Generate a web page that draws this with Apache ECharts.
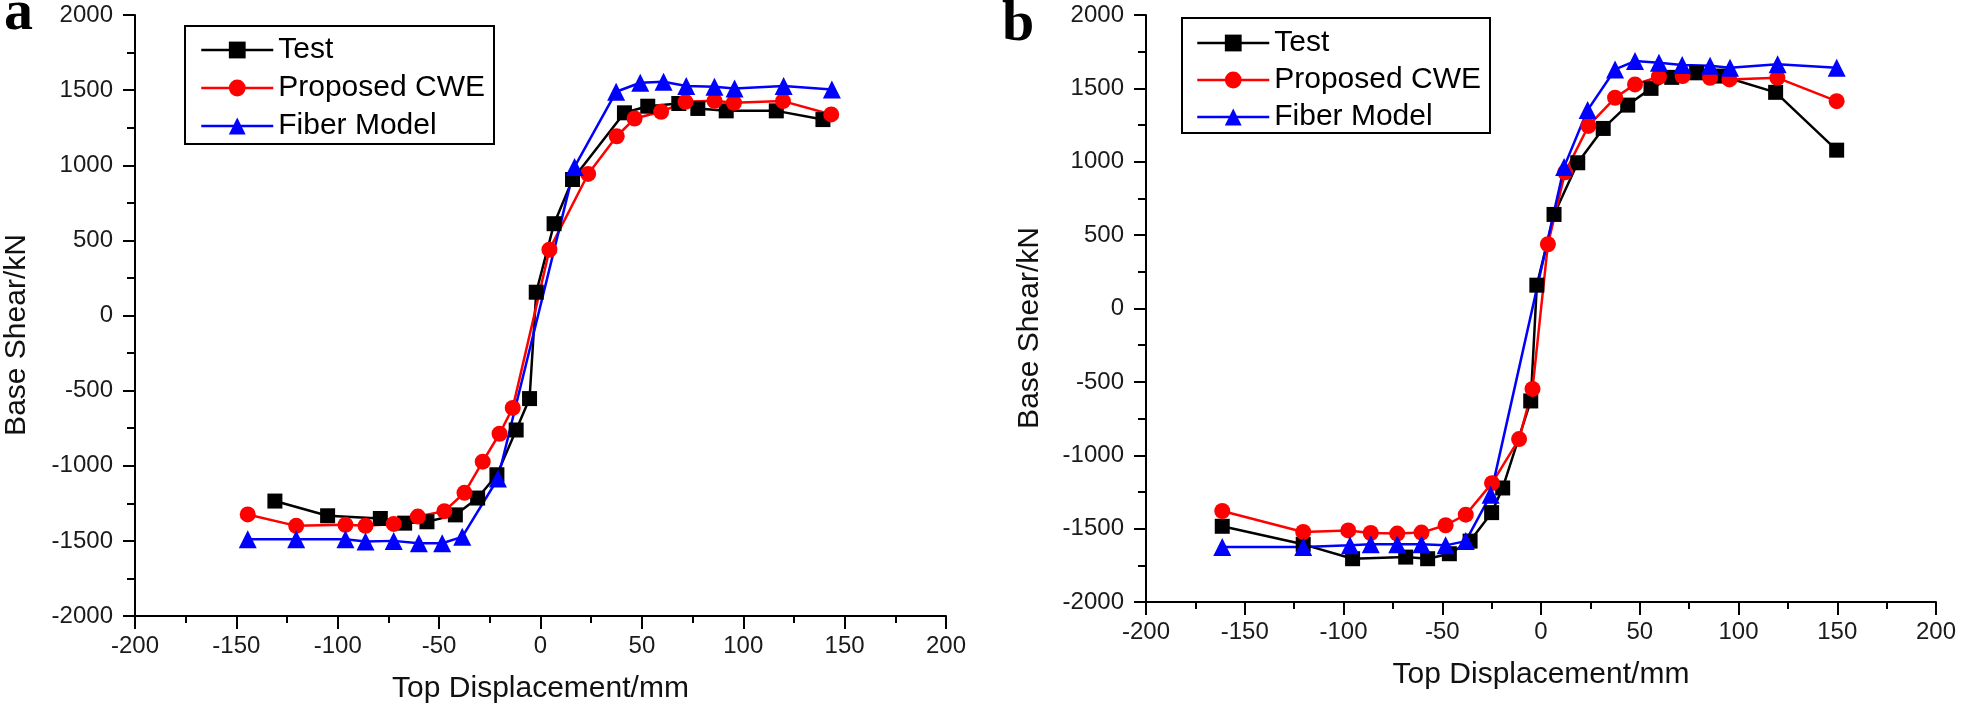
<!DOCTYPE html>
<html>
<head>
<meta charset="utf-8">
<script src="https://cdn.jsdelivr.net/npm/echarts@6/dist/echarts.min.js"></script>
<style>
html,body{margin:0;padding:0;background:#fff;}
#chart{width:1961px;height:715px;}
</style>
</head>
<body>
<div id="chart"></div>
<script>
// Panel a data: [top displacement (mm), base shear (kN)]
var aTest = [[-131,-1235],[-105,-1333],[-79,-1351],[-67,-1382],[-56,-1373],[-42,-1327],[-31,-1215],[-21.5,-1060],[-12,-762],[-5.4,-553],[-2.1,155],[6.7,611],[15.8,905],[41.4,1349],[52.9,1393],[68.2,1411],[77.6,1378],[91.6,1362],[116.3,1362],[139.3,1304]];
var aCwe = [[-144.4,-1324],[-120.5,-1400],[-96.2,-1393],[-86.3,-1400],[-72.4,-1387],[-60.5,-1338],[-47.4,-1302],[-37.5,-1180],[-28.5,-973],[-20.2,-787],[-13.7,-615],[4.4,438],[23.5,942],[37.6,1193],[46.4,1311],[59.5,1356],[71.5,1422],[85.8,1429],[95.4,1416],[119.6,1427],[143.4,1338]];
var aFiber = [[-144.4,-1489],[-120.5,-1489],[-96.2,-1489],[-86.3,-1504],[-72.4,-1500],[-60,-1516],[-48.5,-1516],[-38.6,-1473],[-21,-1085],[16.8,989],[37.3,1489],[49.2,1549],[60.7,1556],[71.9,1527],[85.8,1522],[95.7,1511],[119.9,1527],[143.7,1504]];
// Panel b data
var bTest = [[-161.4,-1484],[-120.4,-1607],[-95.4,-1705],[-68.5,-1694],[-57.4,-1705],[-46.4,-1671],[-35.9,-1585],[-25,-1391],[-19.4,-1223],[-5.2,-630],[-2.1,159],[6.6,641],[18.6,993],[31.5,1227],[43.9,1386],[55.7,1500],[66.2,1575],[78.8,1606],[91.5,1584],[118.8,1473],[149.7,1079]];
var bCwe = [[-161.4,-1380],[-120.4,-1523],[-97.6,-1512],[-86.2,-1530],[-72.8,-1534],[-60.5,-1527],[-48.3,-1477],[-38.1,-1405],[-24.8,-1190],[-11.1,-890],[-4.3,-548],[3.5,438],[12.2,928],[24,1244],[37.5,1436],[47.6,1527],[59.7,1579],[71.7,1584],[85.6,1572],[95.4,1561],[119.7,1572],[149.7,1413]];
var bFiber = [[-161.4,-1625],[-120.4,-1625],[-96.7,-1614],[-86.2,-1607],[-72.8,-1607],[-60.5,-1607],[-48.3,-1614],[-38.1,-1585],[-25.5,-1270],[11.7,965],[23.6,1352],[37.5,1629],[47.6,1686],[59.7,1675],[71.5,1659],[85.6,1654],[95.7,1641],[119.8,1664],[149.7,1641]];

var seriesNames = ['Test', 'Proposed CWE', 'Fiber Model'];
var xTitle = 'Top Displacement/mm';
var yTitle = 'Base Shear/kN';
var panelLabels = ['a', 'b'];

var FONT = '"Liberation Sans", Arial, sans-serif';
var styles = [
  {color:'#000000', symbol:'rect', size:15},
  {color:'#ff0000', symbol:'circle', size:16},
  {color:'#0000ff', symbol:'triangle', size:18}
];

function plain(v){ return String(v); }

function xAx(gi){
  return {
    type:'value', gridIndex:gi, min:-200, max:200, interval:50,
    axisLine:{onZero:false, lineStyle:{color:'#000', width:2}},
    axisTick:{length:13, lineStyle:{color:'#000', width:2}},
    minorTick:{show:true, splitNumber:2, length:7, lineStyle:{color:'#000', width:2}},
    splitLine:{show:false},
    axisLabel:{fontSize:24, color:'#1a1a1a', margin:18, fontFamily:FONT, formatter:plain},
    name:xTitle, nameLocation:'middle', nameGap:58,
    nameTextStyle:{fontSize:30, color:'#111', fontFamily:FONT}
  };
}
function yAx(gi){
  return {
    type:'value', gridIndex:gi, min:-2000, max:2000, interval:500,
    axisLine:{onZero:false, lineStyle:{color:'#000', width:2}},
    axisTick:{length:12, lineStyle:{color:'#000', width:2}},
    minorTick:{show:true, splitNumber:2, length:8, lineStyle:{color:'#000', width:2}},
    splitLine:{show:false},
    axisLabel:{fontSize:24, color:'#1a1a1a', margin:22, fontFamily:FONT, formatter:plain}
  };
}
function mk(name, data, idx, gi){
  var s = styles[idx];
  return {
    name:name, type:'line', xAxisIndex:gi, yAxisIndex:gi, data:data,
    symbol:s.symbol, symbolSize:s.size, showAllSymbol:true,
    lineStyle:{color:s.color, width:2.5},
    itemStyle:{color:s.color},
    animation:false
  };
}
function legendOf(gi, left, top, pad, gap){
  return {
    orient:'vertical', left:left, top:top, padding:pad, itemGap:gap,
    itemWidth:72, itemHeight:21,
    borderColor:'#000', borderWidth:2, backgroundColor:'#fff',
    lineStyle:{width:2.5},
    textStyle:{fontSize:30, lineHeight:30, color:'#000', fontFamily:FONT},
    data:seriesNames
  };
}
function rotTitle(x, y){
  return {type:'text', x:x, y:y, rotation:Math.PI/2,
    style:{text:yTitle, font:'30px ' + FONT, fill:'#111',
      align:'center', verticalAlign:'middle', textAlign:'center', textVerticalAlign:'middle'}};
}
function letter(t, x, y){
  return {type:'text', x:x, y:y,
    style:{text:t, font:'bold 58px "Liberation Serif", "Times New Roman", serif', fill:'#000',
      align:'left', verticalAlign:'middle', textAlign:'left', textVerticalAlign:'middle'}};
}

var chart = echarts.init(document.getElementById('chart'), null, {renderer:'canvas'});
chart.setOption({
  backgroundColor:'#fff',
  animation:false,
  grid:[
    {left:135, top:15, width:811, height:601},
    {left:1146, top:15, width:790, height:587}
  ],
  xAxis:[xAx(0), xAx(1)],
  yAxis:[yAx(0), yAx(1)],
  legend:[
    legendOf(0, 185, 26, [9,9,3,15], 8),
    legendOf(1, 1182, 18, [10,9,1,14], 7)
  ],
  graphic:[
    rotTitle(17, 335),
    rotTitle(1030, 328),
    letter(panelLabels[0], 4, 14),
    letter(panelLabels[1], 1002, 25)
  ],
  series:[
    mk(seriesNames[0], aTest, 0, 0),
    mk(seriesNames[1], aCwe, 1, 0),
    mk(seriesNames[2], aFiber, 2, 0),
    mk(seriesNames[0], bTest, 0, 1),
    mk(seriesNames[1], bCwe, 1, 1),
    mk(seriesNames[2], bFiber, 2, 1)
  ]
});
</script>
</body>
</html>
